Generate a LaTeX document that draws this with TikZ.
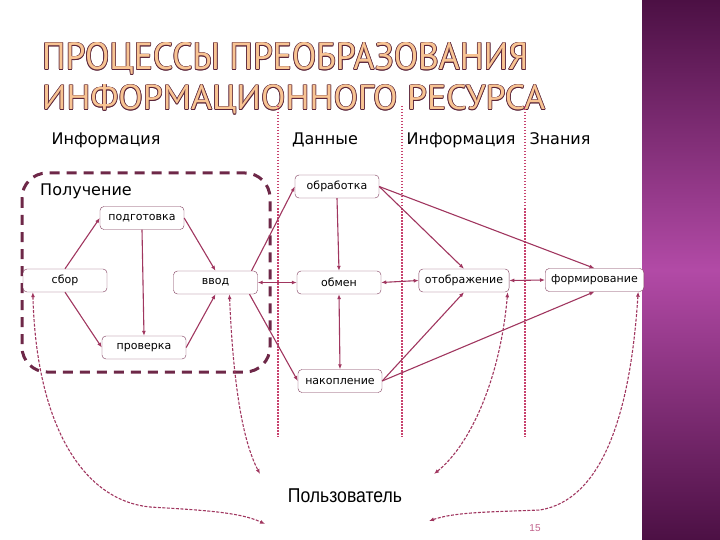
\documentclass[tikz,border=0pt]{standalone}
\usepackage{fontspec}
\usepackage{graphicx}
\setmainfont{DejaVu Sans}
\newfontfamily\titlefont{PT Sans}
\newfontfamily\userfont{Liberation Sans}
\usetikzlibrary{arrows.meta}

\definecolor{linkcol}{HTML}{A0365F}
\definecolor{boxcol}{HTML}{7E3A5A}
\definecolor{zonecol}{HTML}{C8426E}
\definecolor{framecol}{HTML}{6E2848}
\definecolor{titlefill}{HTML}{F8C493}
\definecolor{titleedge}{HTML}{5A2438}
\definecolor{bandtop}{HTML}{4C1044}
\definecolor{bandmid}{HTML}{B24AA6}
\definecolor{pagecol}{HTML}{C0608A}

\newcommand{\titleA}{\resizebox{486pt}{27pt}{\titlefont ПРОЦЕССЫ ПРЕОБРАЗОВАНИЯ}}
\newcommand{\titleB}{\resizebox{503pt}{25pt}{\titlefont ИНФОРМАЦИОННОГО РЕСУРСА}}

\tikzset{
  procbox/.style={draw=boxcol, fill=white, rounded corners=4pt, minimum width=84pt,
    minimum height=23pt, inner xsep=6pt, font=\fontsize{11}{13}\selectfont},
  link/.style={draw=linkcol, line width=1.1pt},
  userlink/.style={draw=linkcol, line width=1.1pt, dash pattern=on 3pt off 1.5pt},
  zone/.style={draw=zonecol, line width=2pt, dash pattern=on 1.5pt off 1.5pt},
  header/.style={anchor=base, font=\fontsize{16}{19}\selectfont},
  titletext/.style={anchor=base west, inner sep=0pt}
}

\begin{document}
\begin{tikzpicture}[x=1pt, y=-1pt, >={Latex[length=5pt,width=4pt]}, line join=round]
  \useasboundingbox (0,0) rectangle (720,540);

  % Side band
  \shade[top color=bandtop, bottom color=bandtop, middle color=bandmid] (642,0) rectangle (720,540);

  % Title
  \foreach \ang in {0,45,...,315} {
    \node[titletext, text=titleedge, shift={(\ang:0.75pt)}] at (42,70) {\titleA};
    \node[titletext, text=titleedge, shift={(\ang:0.75pt)}] at (42,110) {\titleB};
  }
  \node[titletext, text=titlefill] (title1) at (42,70) {\titleA};
  \node[titletext, text=titlefill] (title2) at (42,110) {\titleB};

  % Headers
  \node[header] (hInfoA) at (106,145) {Информация};
  \node[header] (hData) at (325,145) {Данные};
  \node[header] (hInfoB) at (461,145) {Информация};
  \node[header] (hKnow) at (560,145) {Знания};

  % Stage borders
  \foreach \x in {278,402,525}
    \draw[zone] (\x,106) -- (\x,437);

  % Acquisition frame
  \draw[framecol, line width=3pt, dash pattern=on 10pt off 7pt, rounded corners=25pt]
    (22,173) rectangle (270,372);
  \node[header] (hGet) at (86,196) {Получение};

  % Processes
  \node[procbox] (podg) at (142,218) {подготовка};
  \node[procbox] (sbor) at (65,280.5) {сбор};
  \node[procbox] (vvod) at (215.5,282.5) {ввод};
  \node[procbox] (prov) at (144,347.5) {проверка};
  \node[procbox] (obr) at (337,186.5) {обработка};
  \node[procbox] (obm) at (339,282.5) {обмен};
  \node[procbox] (nak) at (340,381) {накопление};
  \node[procbox] (otob) at (464,280.5) {отображение};
  \node[procbox] (form) at (594.5,280) {формирование};

  % Links
  \draw[link,->] (sbor.north) -- (podg.west);
  \draw[link,->] (podg.east) -- (vvod.north);
  \draw[link,->] (podg.south) -- (prov.north);
  \draw[link,->] (sbor.south) -- (prov.west);
  \draw[link,->] (prov.east) -- (vvod.south);
  \draw[link,->] (vvod.18) -- (obr.west);
  \draw[link,<->] (vvod.east) -- (obm.west);
  \draw[link,->] (vvod.-19) -- (nak.west);
  \draw[link,->] (obr.south) -- (obm.north);
  \draw[link,<->] (obm.south) -- (nak.north);
  \draw[link,<->] (obm.east) -- (otob.west);
  \draw[link,<->] (otob.east) -- (form.west);
  \draw[link,->] (obr.east) -- (otob.north);
  \draw[link,->] (obr.east) -- (form.north);
  \draw[link,->] (nak.east) -- (otob.south);
  \draw[link,->] (nak.east) -- (form.south);

  % User
  \node[anchor=base] (user) at (345,502) {\userfont\scalebox{0.88}[1]{\fontsize{20}{24}\selectfont Пользователь}};
  \coordinate (userA) at (265,524);
  \coordinate (userB) at (260,474);
  \coordinate (userC) at (434,474);
  \coordinate (userD) at (429,521);
  \draw[userlink,<->] (sbor.200) .. controls (36,420) and (80,500) .. (150,507)
    .. controls (200,510) and (240,512) .. (userA);
  \draw[userlink,<->] (vvod.-40) .. controls (233,380) and (242,440) .. (userB);
  \draw[userlink,<->] (otob.-15) .. controls (500,380) and (470,445) .. (userC);
  \draw[userlink,<->] (form.-15) .. controls (630,420) and (600,500) .. (540,510)
    .. controls (490,512) and (455,512) .. (userD);

  % Page number
  \node[text=pagecol, font=\userfont\fontsize{10}{12}\selectfont] (page) at (535,528) {15};
\end{tikzpicture}
\end{document}
